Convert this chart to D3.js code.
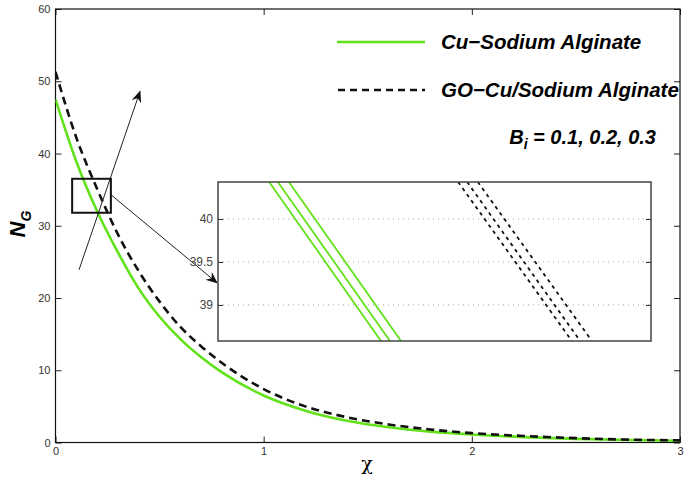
<!DOCTYPE html>
<html>
<head>
<meta charset="utf-8">
<script src="https://cdn.jsdelivr.net/npm/d3@7"></script>
<style>
  body { margin: 0; background: #fff; }
  svg { font-family: "Liberation Sans", Arial, Helvetica, sans-serif; }
  .tick text { fill: #333; font-size: 11px; }
  .tick line { stroke: #222; }
  .domain { display: none; }
</style>
</head>
<body>
<div id="chart"></div>
<script>
// main curves (chi vs N_G)
const chi = [0, 0.1, 0.2, 0.3, 0.4, 0.5, 0.6, 0.7, 0.8, 1.0, 1.2, 1.4, 1.6, 1.8, 2.0, 2.25, 2.5, 2.75, 3.0];
const cuNG = [47.5, 38.9, 32.0, 26.3, 21.3, 17.4, 14.3, 11.8, 9.7, 6.5, 4.4, 3.0, 2.1, 1.5, 1.1, 0.75, 0.5, 0.35, 0.25];
const goNG = [51.3, 42.2, 35.1, 28.8, 23.7, 19.5, 16.0, 13.3, 11.0, 7.4, 5.0, 3.5, 2.5, 1.8, 1.3, 0.9, 0.6, 0.4, 0.3];

// zoomed inset: each Bi line given by its x at the top and bottom of the inset
const bi = [0.1, 0.2, 0.3];
const insetYEnds = [40.43, 38.58];
const cuInsetX = [[0.1830, 0.2114], [0.1852, 0.2137], [0.1880, 0.2165]];
const goInsetX = [[0.2310, 0.2599], [0.2333, 0.2620], [0.2360, 0.2650]];

const xTicks = [0, 1, 2, 3];
const yTicks = [0, 10, 20, 30, 40, 50, 60];
const insetTicks = [39, 39.5, 40];

const W = 685, H = 485;
const green = "#62e21a";

const svg = d3.select("#chart").append("svg")
    .attr("width", W)
    .attr("height", H);

const defs = svg.append("defs");
defs.append("clipPath").attr("id", "clipMain")
    .append("rect").attr("x", 55.5).attr("y", 9).attr("width", 624.5).attr("height", 433.5);
defs.append("clipPath").attr("id", "clipInset")
    .append("rect").attr("x", 218).attr("y", 182).attr("width", 433).attr("height", 159);
defs.append("marker")
    .attr("id", "arrow")
    .attr("viewBox", "0 0 12 10")
    .attr("refX", 11).attr("refY", 5)
    .attr("markerWidth", 12).attr("markerHeight", 10)
    .attr("markerUnits", "userSpaceOnUse")
    .attr("orient", "auto")
    .append("path")
    .attr("d", "M0,0 L12,5 L0,10 L4,5 Z")
    .attr("fill", "#111");

let x = d3.scaleLinear().domain([0, 3]).range([55.5, 680]);
let y = d3.scaleLinear().domain([0, 60]).range([442.5, 9]);

// axes, ticks pointing inwards on all four sides
svg.append("g").attr("transform", "translate(0,442.5)")
    .call(d3.axisBottom(x).tickValues(xTicks).tickSize(-6).tickSizeOuter(0).tickPadding(5).tickFormat(d3.format("d")));
svg.append("g").attr("transform", "translate(0,9)")
    .call(d3.axisTop(x).tickValues(xTicks).tickSize(-6).tickSizeOuter(0).tickFormat(""));
svg.append("g").attr("transform", "translate(55.5,0)")
    .call(d3.axisLeft(y).tickValues(yTicks).tickSize(-6).tickSizeOuter(0).tickPadding(5).tickFormat(d3.format("d")));
svg.append("g").attr("transform", "translate(680,0)")
    .call(d3.axisRight(y).tickValues(yTicks).tickSize(-6).tickSizeOuter(0).tickFormat(""));

svg.append("rect")
    .attr("x", 55.5).attr("y", 9).attr("width", 624.5).attr("height", 433.5)
    .attr("fill", "none").attr("stroke", "#111").attr("stroke-width", 1.2);

// curves
let line = d3.line()
    .x(d => x(d[0]))
    .y(d => y(d[1]))
    .curve(d3.curveMonotoneX);

let curves = svg.append("g").attr("clip-path", "url(#clipMain)");
curves.append("path")
    .datum(chi.map((c, i) => [c, cuNG[i]]))
    .attr("d", line)
    .attr("fill", "none").attr("stroke", green).attr("stroke-width", 2.6);
curves.append("path")
    .datum(chi.map((c, i) => [c, goNG[i]]))
    .attr("d", line)
    .attr("fill", "none").attr("stroke", "#111").attr("stroke-width", 2.6)
    .attr("stroke-dasharray", "8,5");

// zoom box and arrows
svg.append("rect")
    .attr("x", x(0.08)).attr("y", y(36.5))
    .attr("width", x(0.266) - x(0.08)).attr("height", y(31.8) - y(36.5))
    .attr("fill", "none").attr("stroke", "#111").attr("stroke-width", 2);

svg.append("line")
    .attr("x1", x(0.113)).attr("y1", y(23.9))
    .attr("x2", x(0.406)).attr("y2", y(48.6))
    .attr("stroke", "#222").attr("stroke-width", 1)
    .attr("marker-end", "url(#arrow)");
svg.append("line")
    .attr("x1", x(0.266)).attr("y1", y(34.3))
    .attr("x2", x(0.776)).attr("y2", y(22.1))
    .attr("stroke", "#222").attr("stroke-width", 1)
    .attr("marker-end", "url(#arrow)");

// axis labels
svg.append("text")
    .attr("transform", "translate(25,224) rotate(-90)")
    .attr("text-anchor", "middle")
    .style("font-size", "22px").style("font-weight", "bold").style("font-style", "italic")
    .text("N")
    .append("tspan").attr("dy", 6).style("font-size", "14px").text("G");

svg.append("text")
    .attr("x", 367).attr("y", 470)
    .attr("text-anchor", "middle")
    .style("font-family", "'DejaVu Serif', serif")
    .style("font-size", "19px")
    .text("χ");

// legend
let legend = svg.append("g");
legend.append("line")
    .attr("x1", 337).attr("x2", 425).attr("y1", 42).attr("y2", 42)
    .attr("stroke", green).attr("stroke-width", 2.6);
legend.append("line")
    .attr("x1", 338).attr("x2", 425).attr("y1", 90).attr("y2", 90)
    .attr("stroke", "#111").attr("stroke-width", 2.6)
    .attr("stroke-dasharray", "7,5");
legend.append("text")
    .attr("x", 441).attr("y", 49)
    .style("font-size", "20.5px").style("font-weight", "bold").style("font-style", "italic")
    .text("Cu\u2212Sodium Alginate");
legend.append("text")
    .attr("x", 441).attr("y", 97)
    .style("font-size", "20.5px").style("font-weight", "bold").style("font-style", "italic")
    .text("GO\u2212Cu/Sodium Alginate");
let biText = legend.append("text")
    .attr("x", 656).attr("y", 144)
    .attr("text-anchor", "end")
    .style("font-size", "20px").style("font-weight", "bold").style("font-style", "italic");
biText.append("tspan").text("B");
biText.append("tspan").attr("dy", 5).style("font-size", "14px").text("i");
biText.append("tspan").attr("dy", -5).text(" = " + bi.join(", "));

// inset
let ix = d3.scaleLinear().domain([0.17, 0.28]).range([218, 651]);
let iy = d3.scaleLinear().domain([38.58, 40.43]).range([341, 182]);

let inset = svg.append("g");
inset.append("rect")
    .attr("x", 218).attr("y", 182).attr("width", 433).attr("height", 159)
    .attr("fill", "#fff");

inset.selectAll(".grid")
    .data(insetTicks)
    .join("line")
    .attr("class", "grid")
    .attr("x1", 218).attr("x2", 651)
    .attr("y1", d => iy(d)).attr("y2", d => iy(d))
    .attr("stroke", "#aaa").attr("stroke-width", 1)
    .attr("stroke-dasharray", "1,4");

inset.append("g").attr("transform", "translate(218,0)")
    .call(d3.axisLeft(iy).tickValues(insetTicks).tickSize(-5).tickSizeOuter(0).tickPadding(5).tickFormat(d => d))
    .selectAll("text").style("font-size", "12px").style("fill", "#444");
inset.append("g").attr("transform", "translate(651,0)")
    .call(d3.axisRight(iy).tickValues(insetTicks).tickSize(-5).tickSizeOuter(0).tickFormat(""));

let insetLines = inset.append("g").attr("clip-path", "url(#clipInset)");
let iline = d3.line().x(d => ix(d[0])).y(d => iy(d[1]));

insetLines.selectAll(".cu")
    .data(cuInsetX)
    .join("path")
    .attr("class", "cu")
    .attr("d", d => iline(d.map((v, k) => [v, insetYEnds[k]])))
    .attr("fill", "none").attr("stroke", green).attr("stroke-width", 1.8);
insetLines.selectAll(".go")
    .data(goInsetX)
    .join("path")
    .attr("class", "go")
    .attr("d", d => iline(d.map((v, k) => [v, insetYEnds[k]])))
    .attr("fill", "none").attr("stroke", "#111").attr("stroke-width", 1.8)
    .attr("stroke-dasharray", "3.5,4");

inset.append("rect")
    .attr("x", 218).attr("y", 182).attr("width", 433).attr("height", 159)
    .attr("fill", "none").attr("stroke", "#444").attr("stroke-width", 1.5);
</script>
</body>
</html>
